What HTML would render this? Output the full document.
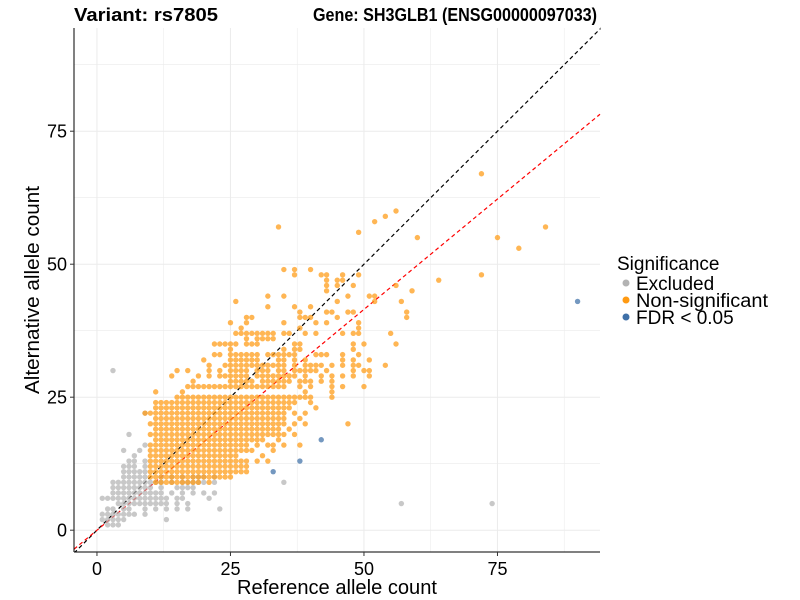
<!DOCTYPE html>
<html><head><meta charset="utf-8">
<style>
body{margin:0;background:#fff;}
svg{display:block;font-family:"Liberation Sans",sans-serif;}
</style></head>
<body>
<svg id="chart" width="800" height="600" viewBox="0 0 800 600">
<g id="grid"></g>
<g id="lines"></g>
<g id="pts"></g>
<g id="axes"></g>
<text x="74" y="21" font-size="18" font-weight="bold" textLength="144" lengthAdjust="spacingAndGlyphs">Variant: rs7805</text>
<text x="313" y="21" font-size="18" font-weight="bold" textLength="284" lengthAdjust="spacingAndGlyphs">Gene: SH3GLB1 (ENSG00000097033)</text>
<text x="337" y="594" font-size="20" text-anchor="middle" textLength="200" lengthAdjust="spacingAndGlyphs">Reference allele count</text>
<text transform="translate(39,290) rotate(-90)" font-size="20" text-anchor="middle" textLength="208" lengthAdjust="spacingAndGlyphs">Alternative allele count</text>
<g>
<text x="617" y="270" font-size="19">Significance</text>
<circle cx="626" cy="283" r="3.5" fill="#b3b3b3"/>
<text x="636" y="290" font-size="19">Excluded</text>
<circle cx="626" cy="300" r="3.5" fill="#ff9a12"/>
<text x="636" y="307" font-size="19" textLength="132" lengthAdjust="spacingAndGlyphs">Non-significant</text>
<circle cx="626" cy="317" r="3.5" fill="#3f70a8"/>
<text x="636" y="324" font-size="19">FDR &lt; 0.05</text>
</g>
</svg>
<script>
const xTicks=[0,25,50,75];
const yTicks=[0,25,50,75];
const xDomain=[-4.3,94.2];
const yDomain=[-4.1,94.4];
const redSlope=0.83;
// dense non-significant rows: [y, xStart, xEnd, extra xs...]
const orangeDense=[
[9,11,19,21],[10,10,25],[11,10,28],[12,10,28],[13,10,28,30,32],[14,10,26,31],[15,10,29,33],
[16,10,28,30,32,33,35,38],[17,11,31,34],[18,10,35,37],[19,11,34,36],[20,10,35,37,39,47],
[21,11,35,38],[22,9,35,37,39],[23,11,36,41],[24,11,37,40],[25,15,40,44],[26,11,11,16,39,44],
[27,17,35,38,40,44,46,50]
];
// sparse non-significant rows: [y, xs...]
const orangeSparse=[
[28,18,25,26,27,28,29,31,32,33,34,35,36,38,39,40,42,44],
[29,14,19,21,23,24,25,26,27,28,30,31,32,33,34,35,36,37,39,42,44,46,48,51],
[30,15,17,21,23,25,26,27,28,30,31,32,34,35,37,38,39,40,41,43,48,50,51],
[31,21,24,25,26,27,28,29,30,31,32,33,34,35,37,39,40,41,42,44,46,48,49,54],
[32,20,25,26,27,28,29,30,34,35,37,39,46,48,51],
[33,22,23,25,26,27,28,29,30,32,33,34,35,36,37,41,42,43,46,49],
[34,25,35,37,38,48],
[35,22,23,24,25,26,28,29,30,37,38,48,50,56],
[36,28,30,31,32,33],
[37,26,27,28,29,30,31,32,33,35,36,39,41,46,48,49,55],
[38,27,38,49],
[39,25,28,35,41,43,49],
[40,28,29,38,39,40,45,58],
[41,38,43,44,47,48,58],
[42,32,37,40],
[43,26,45,52,57],
[44,32,35,47,51,52],
[45,43,59],
[46,43,45,48,56],
[47,43,45,46,64],
[48,37,42,43,46,49,72],
[49,35,37,40],
[55,60],[56,49],[57,34,84],[58,52],[59,54],[60,56],[55,75],[53,79],[67,72]
];
const blueX=[90,42,38,33];
const blueY=[43,17,13,11];
// excluded rows: [y, xStart, xEnd, extra xs...]
const grayRows=[
[1,2,4],[2,1,5,13],[3,1,7,9],[4,2,3,5,6,9,11,13,15,17,23],[5,4,11,12,13,15,17,57,74],
[6,1,11,12,13,15,16,21],[7,3,11,12,14,16,18,20,22],[8,3,10,12,15,16,17,18],
[9,3,12,14,16,17,18,19,20,22,35],[10,5,9,12,14,16,18,19,20,22],[11,5,9],[12,5,7,9],
[13,6,7,9],[14,7,7],[15,5,5,8],[16,9,9],[18,6,6],[22,9,9],[30,3,3]
];
const X=v=>74+(v-xDomain[0])/(xDomain[1]-xDomain[0])*526;
const Y=v=>552-(v-yDomain[0])/(yDomain[1]-yDomain[0])*524;
const NS="http://www.w3.org/2000/svg";
function mk(t,a,p){const e=document.createElementNS(NS,t);for(const k in a)e.setAttribute(k,a[k]);p.appendChild(e);return e;}
const grid=document.getElementById('grid');
for(let v=0;v<=87.5;v+=12.5){
 const gx=mk('line',{x1:X(v),x2:X(v),y1:28,y2:552,stroke:'#ebebeb','stroke-width':v%25?0.6:1},grid);
 
 
 const gy=mk('line',{x1:74,x2:600,y1:Y(v),y2:Y(v),stroke:'#ebebeb','stroke-width':v%25?0.6:1},grid);
 
 
}
const pts=document.getElementById('pts');
function dot(x,y,c,name){
 const e=mk('circle',{cx:X(x),cy:Y(y),r:2.7,fill:c,'fill-opacity':0.72},pts);
 
 
}
grayRows.forEach(r=>{for(let x=r[1];x<=r[2];x++)dot(x,r[0],'#b3b3b3','excluded-point');r.slice(3).forEach(x=>dot(x,r[0],'#b3b3b3','excluded-point'));});
orangeDense.forEach(r=>{for(let x=r[1];x<=r[2];x++)dot(x,r[0],'#ff9a12','nonsig-point');r.slice(3).forEach(x=>dot(x,r[0],'#ff9a12','nonsig-point'));});
orangeSparse.forEach(r=>{r.slice(1).forEach(x=>dot(x,r[0],'#ff9a12','nonsig-point'));});
blueX.forEach((x,i)=>dot(x,blueY[i],'#3f70a8','fdr-point'));
const lines=document.getElementById('lines');
const l1=mk('line',{x1:X(-4.3),y1:Y(-4.3),x2:X(94.4),y2:Y(94.4),stroke:'#000','stroke-width':1.2,'stroke-dasharray':'4,3'},lines);


const l2=mk('line',{x1:X(-4.3),y1:Y(-4.3*redSlope),x2:X(94.2),y2:Y(94.2*redSlope),stroke:'#ff0000','stroke-width':1.2,'stroke-dasharray':'4,3'},lines);


const axes=document.getElementById('axes');
const cp=mk('rect',{x:0,y:0,width:74,height:600,fill:'#fff'},axes);
const cp2=mk('rect',{x:74,y:552.5,width:560,height:48,fill:'#fff'},axes);
const cp3=mk('rect',{x:600.5,y:28,width:10,height:530,fill:'#fff'},axes);
const ax=mk('line',{x1:74,x2:74,y1:28,y2:552,stroke:'#000','stroke-width':1},axes);
const bx=mk('line',{x1:74,x2:600,y1:552,y2:552,stroke:'#000','stroke-width':1},axes);
xTicks.forEach(v=>{
 const t=mk('line',{x1:X(v),x2:X(v),y1:552,y2:556,stroke:'#333'},axes);
 
 
 const tx=mk('text',{x:X(v),y:575,'font-size':18,'text-anchor':'middle',fill:'#000'},axes);tx.textContent=v;
 
 
});
yTicks.forEach(v=>{
 const t=mk('line',{x1:70,x2:74,y1:Y(v),y2:Y(v),stroke:'#333'},axes);
 
 
 const tx=mk('text',{x:67,y:Y(v)+6.5,'font-size':18,'text-anchor':'end',fill:'#000'},axes);tx.textContent=v;
 
 
});
</script>
</body></html>
